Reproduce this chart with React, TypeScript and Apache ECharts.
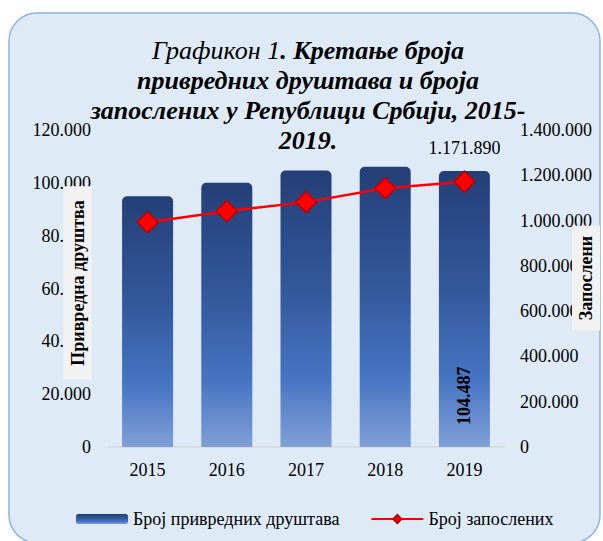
import React, { useEffect, useRef } from "react";
import * as echarts from "echarts";

const years = ["2015", "2016", "2017", "2018", "2019"];
const companies = [94900, 100000, 104700, 106100, 104487];
const employees = [992500, 1041500, 1081500, 1142500, 1171890];
const seriesNames = ["Број привредних друштава", "Број запослених"];
const leftAxisName = "Привредна друштва";
const rightAxisName = "Запослени";

const fmt = (n: number) => String(Math.round(n)).replace(/\B(?=(\d{3})+(?!\d))/g, ".");

const SERIF = "'Liberation Serif', 'Times New Roman', serif";

export default function App() {
  const ref = useRef<HTMLDivElement>(null);
  useEffect(() => {
    if (!ref.current) return;
    const chart = echarts.init(ref.current, undefined, { renderer: "svg" });
    const barGrad = new echarts.graphic.LinearGradient(0, 0, 0, 1, [
      { offset: 0, color: "#243f77" },
      { offset: 0.45, color: "#345a9e" },
      { offset: 0.75, color: "#4675c4" },
      { offset: 1, color: "#809fd6" },
    ]);
    const last = years.length - 1;
    chart.setOption({
      animation: false,
      textStyle: { fontFamily: SERIF },
      graphic: [
        {
          type: "rect",
          z: -10,
          shape: { x: 9, y: 13, width: 591, height: 530, r: 28 },
          style: { fill: "#deeaf6", stroke: "#8cb4e2", lineWidth: 1.5 },
        },
        {
          type: "text",
          z: 10,
          x: 308,
          y: 35,
          style: {
            text:
              "{n|Графикон 1}{b|. Кретање броја}\n{b|привредних друштава и броја}\n{b|запослених у Републици Србији, 2015-}\n{b|2019.}",
            align: "center",
            verticalAlign: "top",
            rich: {
              n: { fontFamily: SERIF, fontStyle: "italic", fontWeight: "normal", fontSize: 26, lineHeight: 30, fill: "#000" },
              b: { fontFamily: SERIF, fontStyle: "italic", fontWeight: "bold", fontSize: 26, lineHeight: 30, fill: "#000" },
            },
          },
        },
        {
          type: "text",
          z: 10,
          x: 77.5,
          y: 283,
          rotation: Math.PI / 2,
          style: {
            text: leftAxisName,
            font: `bold 18px ${SERIF}`,
            fill: "#000",
            align: "center",
            verticalAlign: "middle",
            backgroundColor: "#f2f2f2",
            padding: [6, 14, 4, 14],
          },
        },
        {
          type: "text",
          z: 10,
          x: 586,
          y: 278,
          rotation: Math.PI / 2,
          style: {
            text: rightAxisName,
            font: `bold 18px ${SERIF}`,
            fill: "#000",
            align: "center",
            verticalAlign: "middle",
            backgroundColor: "#f2f2f2",
            padding: [6, 10, 4, 10],
          },
        },
      ],
      grid: { left: 108, right: 99, top: 130, bottom: 94, containLabel: false },
      legend: {
        left: 71,
        top: 505,
        itemWidth: 52,
        itemHeight: 10,
        itemGap: 31,
        textStyle: { fontFamily: SERIF, fontSize: 18, color: "#000" },
        data: [
          { name: seriesNames[0], icon: "roundRect" },
          { name: seriesNames[1] },
        ],
      },
      xAxis: {
        type: "category",
        data: years,
        axisLine: { lineStyle: { color: "#d9d9d9", width: 1.5 } },
        axisTick: { show: false },
        axisLabel: { fontFamily: SERIF, fontSize: 18, color: "#000", margin: 14 },
      },
      yAxis: [
        {
          type: "value",
          min: 0,
          max: 120000,
          interval: 20000,
          splitLine: { show: false },
          axisLine: { show: false },
          axisTick: { show: false },
          axisLabel: { fontFamily: SERIF, fontSize: 18, color: "#000", margin: 17, formatter: fmt },
        },
        {
          type: "value",
          min: 0,
          max: 1400000,
          interval: 200000,
          splitLine: { show: false },
          axisLine: { show: false },
          axisTick: { show: false },
          axisLabel: { fontFamily: SERIF, fontSize: 18, color: "#000", margin: 16, formatter: fmt },
        },
      ],
      series: [
        {
          name: seriesNames[0],
          type: "bar",
          yAxisIndex: 0,
          barWidth: 51,
          itemStyle: { color: barGrad, borderRadius: [5, 5, 0, 0] },
          data: companies.map((v, i) =>
            i === last
              ? {
                  value: v,
                  label: {
                    show: true,
                    position: "insideBottom",
                    distance: 22,
                    rotate: 90,
                    align: "left",
                    verticalAlign: "middle",
                    fontFamily: SERIF,
                    fontWeight: "bold",
                    fontSize: 18,
                    color: "#000",
                    formatter: (p: any) => fmt(p.value),
                  },
                }
              : v
          ),
        },
        {
          name: seriesNames[1],
          type: "line",
          yAxisIndex: 1,
          symbol: "diamond",
          symbolSize: 21,
          lineStyle: { color: "#ff0000", width: 2.5 },
          itemStyle: { color: "#ff0000", borderColor: "#c00000", borderWidth: 1.5 },
          z: 5,
          data: employees.map((v, i) =>
            i === last
              ? {
                  value: v,
                  label: {
                    show: true,
                    position: "top",
                    distance: 13,
                    fontFamily: SERIF,
                    fontSize: 18,
                    color: "#000",
                    formatter: (p: any) => fmt(p.value),
                  },
                }
              : v
          ),
        },
      ],
    });
    return () => chart.dispose();
  }, []);
  return (
    <div style={{ position: "absolute", left: 0, top: 0, width: 603, height: 541, background: "#fff" }}>
      <div ref={ref} style={{ width: 603, height: 541 }} />
    </div>
  );
}
